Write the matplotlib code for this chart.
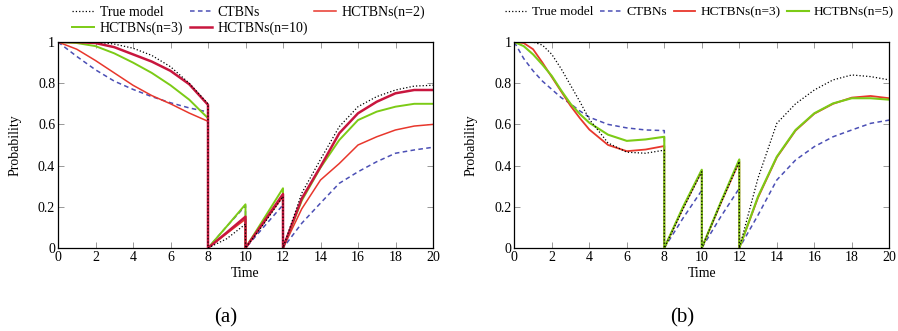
import numpy as np
import matplotlib
matplotlib.use("Agg")
import matplotlib.pyplot as plt

plt.rcParams['font.family'] = ['Liberation Serif', 'DejaVu Serif']

# ---- panel (a) data, one list per segment ----
ta1 = [0, 1, 2, 3, 4, 5, 6, 7, 8]
ta2 = [8, 9, 10]
ta3 = [10, 11, 12]
ta4 = [12, 13, 14, 15, 16, 17, 18, 19, 20]

a_true = [[1, 1, 1, 0.99, 0.97, 0.935, 0.88, 0.80, 0.70],
          [0, 0.045, 0.116],
          [0, 0.12, 0.25],
          [0, 0.266, 0.43, 0.589, 0.686, 0.735, 0.767, 0.786, 0.79]]
a_ctbn = [[1, 0.93, 0.865, 0.81, 0.77, 0.735, 0.705, 0.68, 0.66],
          [0, 0.105, 0.205],
          [0, 0.105, 0.209],
          [0, 0.12, 0.218, 0.314, 0.37, 0.419, 0.46, 0.476, 0.489]]
a_n2 = [[1, 0.965, 0.91, 0.85, 0.79, 0.74, 0.70, 0.655, 0.615],
        [0, 0.07, 0.14],
        [0, 0.125, 0.25],
        [0, 0.19, 0.33, 0.41, 0.50, 0.54, 0.573, 0.592, 0.60]]
a_n3 = [[1, 0.995, 0.98, 0.945, 0.90, 0.85, 0.79, 0.72, 0.63],
        [0, 0.105, 0.212],
        [0, 0.145, 0.29],
        [0, 0.23, 0.39, 0.524, 0.621, 0.662, 0.686, 0.70, 0.70]]
a_n10 = [[1, 1, 0.995, 0.975, 0.94, 0.905, 0.86, 0.795, 0.695],
         [0, 0.075, 0.152],
         [0, 0.13, 0.262],
         [0, 0.24, 0.395, 0.557, 0.654, 0.71, 0.751, 0.767, 0.767]]

# ---- panel (b) data ----
tb1 = [0, 0.5, 1, 1.5, 2, 2.5, 3, 3.5, 4, 5, 6, 7, 8]
tb2 = [8, 9, 10]
tb3 = [10, 11, 12]
tb4 = [12, 13, 14, 15, 16, 17, 18, 19, 20]

b_true = [[1, 1, 1, 0.985, 0.94, 0.87, 0.79, 0.71, 0.625, 0.51, 0.465, 0.46, 0.475],
          [0, 0.19, 0.37],
          [0, 0.215, 0.42],
          [0, 0.34, 0.605, 0.70, 0.767, 0.816, 0.84, 0.832, 0.816]]
b_ctbn = [[1, 0.92, 0.86, 0.81, 0.77, 0.73, 0.70, 0.665, 0.635, 0.60, 0.583, 0.573, 0.57],
          [0, 0.145, 0.28],
          [0, 0.15, 0.29],
          [0, 0.16, 0.33, 0.427, 0.492, 0.54, 0.573, 0.605, 0.621]]
b_n3 = [[1, 0.995, 0.965, 0.90, 0.83, 0.76, 0.69, 0.63, 0.575, 0.50, 0.47, 0.478, 0.495],
        [0, 0.195, 0.375],
        [0, 0.215, 0.42],
        [0, 0.245, 0.44, 0.57, 0.652, 0.70, 0.73, 0.738, 0.727]]
b_n5 = [[1, 0.98, 0.94, 0.89, 0.835, 0.765, 0.70, 0.65, 0.608, 0.55, 0.52, 0.527, 0.54],
        [0, 0.20, 0.38],
        [0, 0.22, 0.43],
        [0, 0.25, 0.443, 0.573, 0.654, 0.702, 0.727, 0.727, 0.72]]

xticks = [0, 2, 4, 6, 8, 10, 12, 14, 16, 18, 20]
yticks = [0, 0.2, 0.4, 0.6, 0.8, 1]
ytick_labels = ['0', '0.2', '0.4', '0.6', '0.8', '1']


def join(times, segs):
    # glue the segments together so the drops at 8, 10, 12 are vertical
    t, v = [], []
    for tt, vv in zip(times, segs):
        t += list(tt)
        v += list(vv)
    return t, v


styles = {
    'true': dict(color='black', ls=':', lw=0.9),
    'ctbn': dict(color='#4b4fb5', ls=(0, (3, 2.2)), lw=1.1),
    'n2': dict(color='#e8372c', ls='-', lw=1.1),
    'n3': dict(color='#7ccb16', ls='-', lw=1.4),
    'n10': dict(color='#c8163e', ls='-', lw=1.8),
    'n3b': dict(color='#e8372c', ls='-', lw=1.3),
    'n5': dict(color='#7ccb16', ls='-', lw=1.5),
}

fig = plt.figure(figsize=(8.98, 3.31), dpi=100)
axa = fig.add_axes([58 / 898, 83 / 331, 375 / 898, 206 / 331])
axb = fig.add_axes([514.3 / 898, 83 / 331, 375 / 898, 206 / 331])

ta = [ta1, ta2, ta3, ta4]
tb = [tb1, tb2, tb3, tb4]

la = {}
for key, data, name in [('ctbn', a_ctbn, 'CTBNs'), ('n2', a_n2, 'HCTBNs(n=2)'),
                        ('n3', a_n3, 'HCTBNs(n=3)'), ('n10', a_n10, 'HCTBNs(n=10)'),
                        ('true', a_true, 'True model')]:
    t, v = join(ta, data)
    la[key], = axa.plot(t, v, label=name, **styles[key])

lb = {}
for key, data, name in [('ctbn', b_ctbn, 'CTBNs'), ('n3b', b_n3, 'HCTBNs(n=3)'),
                        ('n5', b_n5, 'HCTBNs(n=5)'), ('true', b_true, 'True model')]:
    t, v = join(tb, data)
    lb[key], = axb.plot(t, v, label=name, **styles[key])

for ax in (axa, axb):
    ax.set_xlim(0, 20)
    ax.set_ylim(0, 1)
    ax.set_xticks(xticks)
    ax.set_yticks(yticks)
    ax.set_yticklabels(ytick_labels)
    ax.tick_params(direction='in', top=True, right=True, length=4, width=0.6,
                   color='#888888', labelsize=10, pad=2)
    for s in ax.spines.values():
        s.set_linewidth(0.9)
    ax.set_xlabel('Time', fontsize=10, labelpad=2)
    ax.set_ylabel('Probability', fontsize=10, labelpad=12)

leg_kw = dict(frameon=False, loc='upper left', handlelength=1.6,
              handletextpad=0.4, labelspacing=0.15,
              borderaxespad=0, borderpad=0)

# legend (a): row-major order in 3 columns
ha = [la['true'], la['n3'], la['ctbn'], la['n10'], la['n2']]
fig.legend(ha, [h.get_label() for h in ha], ncol=3, fontsize=10,
           columnspacing=0.45, bbox_to_anchor=(72 / 898, 1 - 6 / 331), **leg_kw)

hb = [lb['true'], lb['ctbn'], lb['n3b'], lb['n5']]
fig.legend(hb, [h.get_label() for h in hb], ncol=4, fontsize=9.6,
           columnspacing=0.5, bbox_to_anchor=(505 / 898, 1 - 6 / 331), **leg_kw)

fig.text(226 / 898, 1 - 318 / 331, '(a)', fontsize=15, ha='center', va='center')
fig.text(682 / 898, 1 - 318 / 331, '(b)', fontsize=15, ha='center', va='center')

fig.savefig('out.png', dpi=100)
